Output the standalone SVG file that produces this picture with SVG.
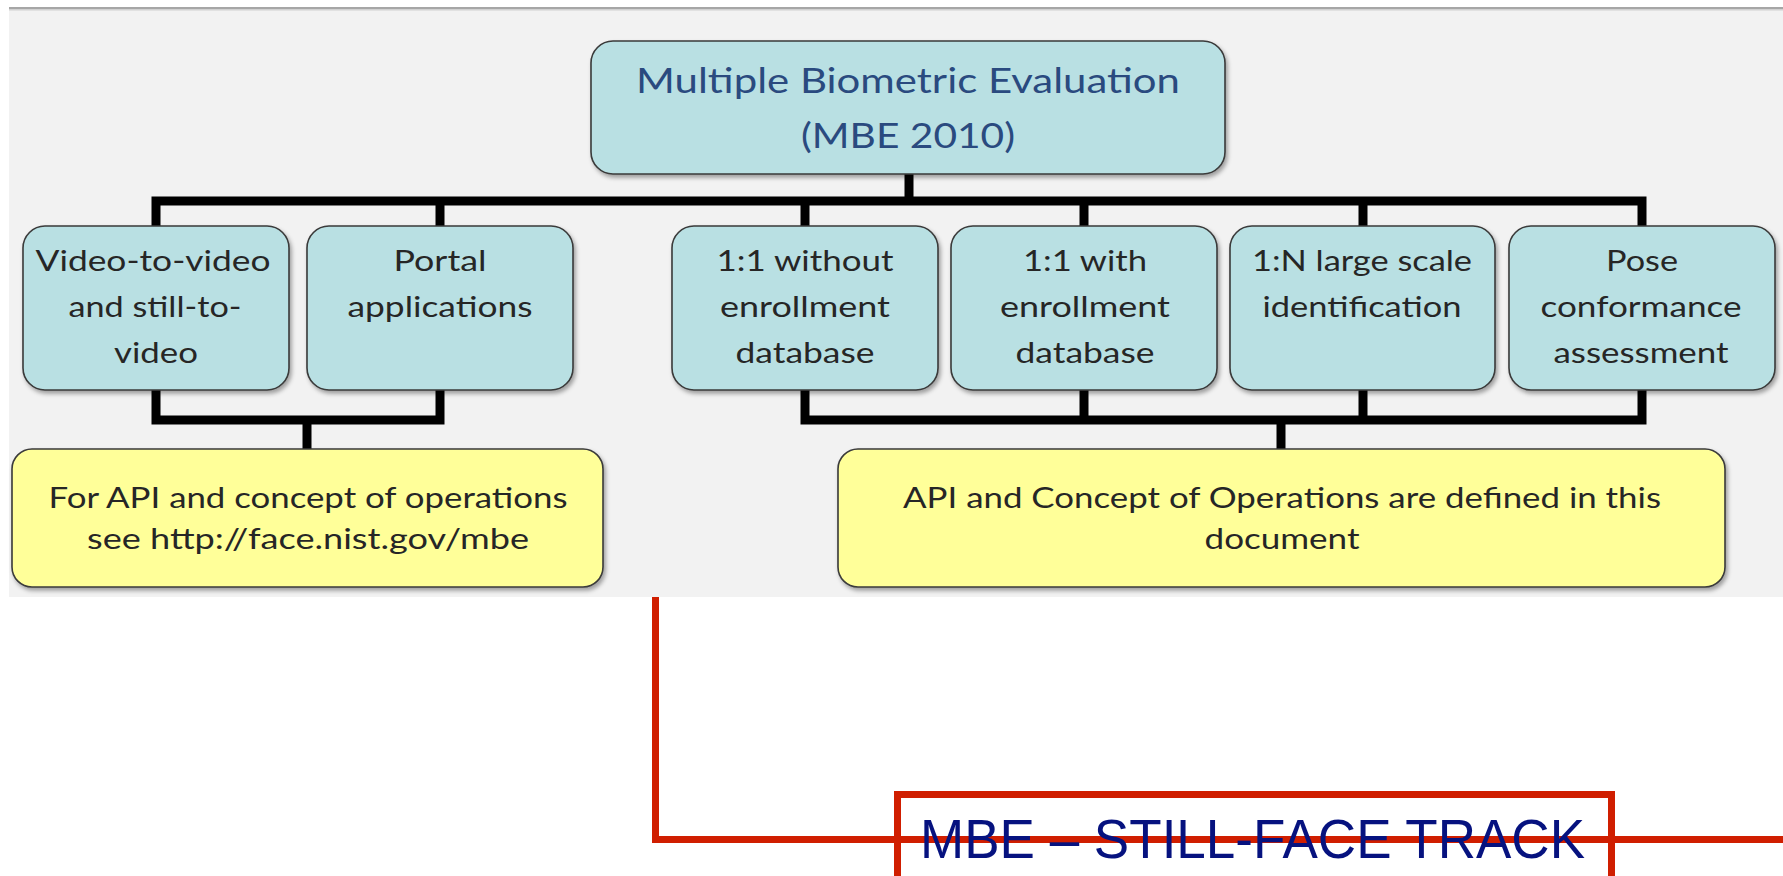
<svg xmlns="http://www.w3.org/2000/svg" width="1783" height="876" viewBox="0 0 1783 876">
<defs>
<filter id="sh" x="-5%" y="-5%" width="115%" height="120%">
<feDropShadow dx="2" dy="3" stdDeviation="2" flood-color="#000" flood-opacity="0.35"/>
</filter>
<style>
.blue{fill:#b9e0e3;stroke:#3a3a3a;stroke-width:1.6;filter:url(#sh)}
.yel{fill:#ffff99;stroke:#3a3a3a;stroke-width:1.6;filter:url(#sh)}
.t{font-family:Lato,"Liberation Sans",sans-serif;font-size:29.5px;fill:#262626;text-anchor:middle}
.tt{font-family:Lato,"Liberation Sans",sans-serif;font-size:35px;fill:#2a4a7f;text-anchor:middle}
.conn{fill:none;stroke:#000;stroke-width:9;stroke-linejoin:miter;stroke-linecap:butt}
.red{fill:none;stroke:#d01e00;stroke-width:7}
.lbl{font-family:"Liberation Sans",Arial,sans-serif;font-size:55px;fill:#06127f}
</style>
</defs>
<rect x="0" y="0" width="1783" height="876" fill="#ffffff"/>
<rect x="9" y="10" width="1774" height="587" fill="#f2f2f2"/>
<rect x="9" y="7" width="1774" height="2.5" fill="#a6a6a6"/>
<rect x="9" y="9.5" width="1774" height="1" fill="#cfcfcf"/>

<g id="connectors">
<path class="conn" d="M909,174 V201"/>
<path class="conn" d="M156,227 V201 H1642 V227"/>
<path class="conn" d="M440,201 V227 M805,201 V227 M1084,201 V227 M1363,201 V227"/>
<path class="conn" d="M156,390 V420 H440 V390"/>
<path class="conn" d="M307,420 V449"/>
<path class="conn" d="M805,390 V420 H1642 V390"/>
<path class="conn" d="M1084,390 V420 M1363,390 V420"/>
<path class="conn" d="M1281,420 V449"/>
</g>

<g id="n-top">
<rect class="blue" x="591" y="41" width="634" height="133" rx="22"/>
<text class="tt" x="908" y="93" textLength="544" lengthAdjust="spacingAndGlyphs">Multiple Biometric Evaluation</text>
<text class="tt" x="908" y="148" textLength="214" lengthAdjust="spacingAndGlyphs">(MBE 2010)</text>
</g>

<g id="n-video">
<rect class="blue" x="23" y="226" width="266" height="164" rx="22"/>
<text class="t" x="153" y="271" textLength="235" lengthAdjust="spacingAndGlyphs">Video-to-video</text>
<text class="t" x="155" y="317" textLength="173" lengthAdjust="spacingAndGlyphs">and still-to-</text>
<text class="t" x="156" y="363" textLength="84" lengthAdjust="spacingAndGlyphs">video</text>
</g>

<g id="n-portal">
<rect class="blue" x="307" y="226" width="266" height="164" rx="22"/>
<text class="t" x="440" y="271" textLength="93" lengthAdjust="spacingAndGlyphs">Portal</text>
<text class="t" x="440" y="317" textLength="185" lengthAdjust="spacingAndGlyphs">applications</text>
</g>

<g id="n-11without">
<rect class="blue" x="672" y="226" width="266" height="164" rx="22"/>
<text class="t" x="805" y="271" textLength="177" lengthAdjust="spacingAndGlyphs">1:1 without</text>
<text class="t" x="805" y="317" textLength="170" lengthAdjust="spacingAndGlyphs">enrollment</text>
<text class="t" x="805" y="363" textLength="139" lengthAdjust="spacingAndGlyphs">database</text>
</g>

<g id="n-11with">
<rect class="blue" x="951" y="226" width="266" height="164" rx="22"/>
<text class="t" x="1085" y="271" textLength="124" lengthAdjust="spacingAndGlyphs">1:1 with</text>
<text class="t" x="1085" y="317" textLength="170" lengthAdjust="spacingAndGlyphs">enrollment</text>
<text class="t" x="1085" y="363" textLength="139" lengthAdjust="spacingAndGlyphs">database</text>
</g>

<g id="n-1n">
<rect class="blue" x="1230" y="226" width="265" height="164" rx="22"/>
<text class="t" x="1362" y="271" textLength="220" lengthAdjust="spacingAndGlyphs">1:N large scale</text>
<text class="t" x="1362" y="317" textLength="199" lengthAdjust="spacingAndGlyphs">identification</text>
</g>

<g id="n-pose">
<rect class="blue" x="1509" y="226" width="266" height="164" rx="22"/>
<text class="t" x="1642" y="271" textLength="72" lengthAdjust="spacingAndGlyphs">Pose</text>
<text class="t" x="1641" y="317" textLength="201" lengthAdjust="spacingAndGlyphs">conformance</text>
<text class="t" x="1641" y="363" textLength="175" lengthAdjust="spacingAndGlyphs">assessment</text>
</g>

<g id="n-api-left">
<rect class="yel" x="12" y="449" width="591" height="138" rx="20"/>
<text class="t" x="308" y="508" textLength="519" lengthAdjust="spacingAndGlyphs">For API and concept of operations</text>
<text class="t" x="308" y="549" textLength="442" lengthAdjust="spacingAndGlyphs">see http://face.nist.gov/mbe</text>
</g>

<g id="n-api-right">
<rect class="yel" x="838" y="449" width="887" height="138" rx="20"/>
<text class="t" x="1282" y="508" textLength="758" lengthAdjust="spacingAndGlyphs">API and Concept of Operations are defined in this</text>
<text class="t" x="1282" y="549" textLength="155" lengthAdjust="spacingAndGlyphs">document</text>
</g>

<g id="track">
<path class="red" d="M655.5,597 V839.5 H1783"/>
<rect class="red" x="897.5" y="794.5" width="714" height="100"/>
<text class="lbl" x="920" y="858" textLength="665" lengthAdjust="spacingAndGlyphs">MBE – STILL-FACE TRACK</text>
</g>
</svg>
